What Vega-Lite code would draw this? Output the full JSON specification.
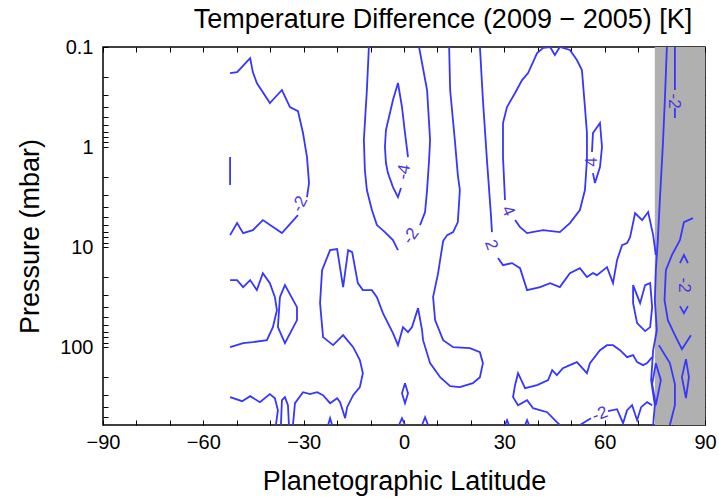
{
"$schema": "https://vega.github.io/schema/vega-lite/v6.json",
"width": 602, "height": 378,
"autosize": "none",
"padding": {"left": 103, "top": 47, "right": 14, "bottom": 73},
"background": "white",
"config": {"font": "Liberation Sans", "view": {"stroke": "black", "strokeWidth": 1.5}},
"title": {"text": "Temperature Difference (2009 \u2212 2005) [K]", "fontSize": 27, "fontWeight": "normal", "color": "black", "anchor": "middle", "dx": 39, "baseline": "alphabetic", "offset": 15, "dy": 33},
"datasets": {
"contours": [
{"c":"A1","i":1,"lat":-52.0,"p":0.182},{"c":"A1","i":2,"lat":-49.9,"p":0.178},{"c":"A1","i":3,"lat":-46.0,"p":0.129},{"c":"A1","i":4,"lat":-45.2,"p":0.178},{"c":"A1","i":5,"lat":-44.0,"p":0.229},{"c":"A1","i":6,"lat":-40.1,"p":0.363},{"c":"A1","i":7,"lat":-36.5,"p":0.269},{"c":"A1","i":8,"lat":-34.1,"p":0.398},{"c":"A1","i":9,"lat":-31.7,"p":0.437},{"c":"A1","i":10,"lat":-30.2,"p":0.724},{"c":"A1","i":11,"lat":-29.0,"p":1.259},{"c":"A1","i":12,"lat":-28.4,"p":2.291},{"c":"A1","i":13,"lat":-29.0,"p":3.162},
{"c":"A2","i":1,"lat":-31.7,"p":4.786},{"c":"A2","i":2,"lat":-36.5,"p":7.244},{"c":"A2","i":3,"lat":-42.2,"p":5.370},{"c":"A2","i":4,"lat":-45.2,"p":6.761},{"c":"A2","i":5,"lat":-48.1,"p":7.244},{"c":"A2","i":6,"lat":-49.9,"p":5.754},{"c":"A2","i":7,"lat":-52.0,"p":7.586},
{"c":"A3","i":1,"lat":-52.0,"p":1.259},{"c":"A3","i":2,"lat":-52.0,"p":2.399},
{"c":"B1","i":1,"lat":-10.5,"p":0.1},{"c":"B1","i":2,"lat":-11.1,"p":0.269},{"c":"B1","i":3,"lat":-12.0,"p":0.851},{"c":"B1","i":4,"lat":-11.7,"p":1.698},{"c":"B1","i":5,"lat":-11.1,"p":2.692},{"c":"B1","i":6,"lat":-9.6,"p":4.266},{"c":"B1","i":7,"lat":-8.1,"p":6.026},{"c":"B1","i":8,"lat":-5.7,"p":7.079},{"c":"B1","i":9,"lat":-3.3,"p":8.511},{"c":"B1","i":10,"lat":-1.8,"p":10.72},
{"c":"B2","i":1,"lat":4.8,"p":6.026},{"c":"B2","i":2,"lat":6.3,"p":4.467},{"c":"B2","i":3,"lat":6.9,"p":2.692},{"c":"B2","i":4,"lat":7.5,"p":1.349},{"c":"B2","i":5,"lat":7.8,"p":0.851},{"c":"B2","i":6,"lat":6.9,"p":0.269},{"c":"B2","i":7,"lat":4.5,"p":0.1},
{"c":"C","i":1,"lat":1.2,"p":1.259},{"c":"C","i":2,"lat":0.3,"p":0.724},{"c":"C","i":3,"lat":-0.6,"p":0.398},{"c":"C","i":4,"lat":-1.8,"p":0.229},{"c":"C","i":5,"lat":-3.3,"p":0.339},{"c":"C","i":6,"lat":-4.2,"p":0.457},{"c":"C","i":7,"lat":-5.4,"p":0.676},{"c":"C","i":8,"lat":-5.7,"p":1.0},{"c":"C","i":9,"lat":-5.4,"p":1.445},{"c":"C","i":10,"lat":-4.8,"p":1.82},{"c":"C","i":11,"lat":-3.3,"p":2.512},{"c":"C","i":12,"lat":-1.8,"p":3.162},{"c":"C","i":13,"lat":-0.9,"p":2.57},
{"c":"D","i":1,"lat":13.5,"p":0.1},{"c":"D","i":2,"lat":13.8,"p":0.269},{"c":"D","i":3,"lat":15.2,"p":0.851},{"c":"D","i":4,"lat":16.1,"p":1.905},{"c":"D","i":5,"lat":16.7,"p":2.692},{"c":"D","i":6,"lat":16.1,"p":5.623},{"c":"D","i":7,"lat":14.7,"p":7.079},{"c":"D","i":8,"lat":12.9,"p":7.586},{"c":"D","i":9,"lat":11.7,"p":8.71},{"c":"D","i":10,"lat":10.8,"p":13.49},{"c":"D","i":11,"lat":10.2,"p":18.2},{"c":"D","i":12,"lat":8.7,"p":31.62},{"c":"D","i":13,"lat":9.3,"p":53.7},{"c":"D","i":14,"lat":11.7,"p":85.11},{"c":"D","i":15,"lat":14.7,"p":100},{"c":"D","i":16,"lat":19.7,"p":102.3},{"c":"D","i":17,"lat":22.7,"p":112.2},{"c":"D","i":18,"lat":23.6,"p":144.5},{"c":"D","i":19,"lat":22.7,"p":199.5},{"c":"D","i":20,"lat":20.6,"p":229.1},{"c":"D","i":21,"lat":16.7,"p":251.2},{"c":"D","i":22,"lat":13.8,"p":245.5},{"c":"D","i":23,"lat":10.8,"p":199.5},{"c":"D","i":24,"lat":7.8,"p":144.5},{"c":"D","i":25,"lat":5.7,"p":85.11},{"c":"D","i":26,"lat":5.4,"p":67.61},{"c":"D","i":27,"lat":4.2,"p":40.74},{"c":"D","i":28,"lat":2.4,"p":63.1},{"c":"D","i":29,"lat":1.2,"p":70.79},{"c":"D","i":30,"lat":-0.3,"p":63.1},{"c":"D","i":31,"lat":-1.8,"p":95.5},{"c":"D","i":32,"lat":-3.3,"p":72.44},{"c":"D","i":33,"lat":-6.3,"p":45.71},{"c":"D","i":34,"lat":-8.1,"p":31.62},{"c":"D","i":35,"lat":-9.6,"p":26.92},{"c":"D","i":36,"lat":-12.3,"p":26.92},{"c":"D","i":37,"lat":-13.8,"p":22.91},{"c":"D","i":38,"lat":-15.5,"p":11.22},{"c":"D","i":39,"lat":-16.7,"p":10.72},{"c":"D","i":40,"lat":-18.2,"p":25.12},{"c":"D","i":41,"lat":-20.0,"p":10.47},{"c":"D","i":42,"lat":-22.1,"p":10.72},{"c":"D","i":43,"lat":-24.5,"p":16.98},{"c":"D","i":44,"lat":-25.1,"p":36.31},{"c":"D","i":45,"lat":-24.2,"p":79.43},{"c":"D","i":46,"lat":-21.2,"p":95.5},{"c":"D","i":47,"lat":-18.2,"p":75.86},{"c":"D","i":48,"lat":-15.2,"p":100},{"c":"D","i":49,"lat":-13.2,"p":134.9},{"c":"D","i":50,"lat":-12.3,"p":182.0},{"c":"D","i":51,"lat":-13.2,"p":251.2},{"c":"D","i":52,"lat":-15.2,"p":302.0},{"c":"D","i":53,"lat":-17.0,"p":398.1},{"c":"D","i":54,"lat":-17.6,"p":512.9},{"c":"D","i":55,"lat":-19.1,"p":354.8},{"c":"D","i":56,"lat":-20.0,"p":323.6},{"c":"D","i":57,"lat":-22.1,"p":363.1},{"c":"D","i":58,"lat":-24.2,"p":302.0},{"c":"D","i":59,"lat":-26.0,"p":281.8},{"c":"D","i":60,"lat":-28.1,"p":295.1},{"c":"D","i":61,"lat":-30.2,"p":281.8},{"c":"D","i":62,"lat":-32.6,"p":363.1},{"c":"D","i":63,"lat":-33.2,"p":600},
{"c":"E1","i":1,"lat":22.7,"p":0.1},{"c":"E1","i":2,"lat":23.6,"p":0.339},{"c":"E1","i":3,"lat":24.8,"p":1.349},{"c":"E1","i":4,"lat":26.0,"p":4.786},{"c":"E1","i":5,"lat":26.3,"p":7.079},
{"c":"E2","i":1,"lat":28.1,"p":12.88},{"c":"E2","i":2,"lat":29.6,"p":15.14},{"c":"E2","i":3,"lat":32.3,"p":14.45},{"c":"E2","i":4,"lat":34.7,"p":16.22},{"c":"E2","i":5,"lat":36.8,"p":26.92},{"c":"E2","i":6,"lat":40.7,"p":25.12},{"c":"E2","i":7,"lat":43.7,"p":22.91},{"c":"E2","i":8,"lat":46.6,"p":25.12},{"c":"E2","i":9,"lat":49.6,"p":18.2},{"c":"E2","i":10,"lat":52.6,"p":16.22},{"c":"E2","i":11,"lat":54.7,"p":19.95},{"c":"E2","i":12,"lat":56.5,"p":18.2},{"c":"E2","i":13,"lat":57.7,"p":19.05},{"c":"E2","i":14,"lat":60.7,"p":15.85},{"c":"E2","i":15,"lat":62.5,"p":22.91},{"c":"E2","i":16,"lat":63.7,"p":13.49},{"c":"E2","i":17,"lat":65.2,"p":9.55},{"c":"E2","i":18,"lat":66.7,"p":9.12},{"c":"E2","i":19,"lat":67.6,"p":7.943},{"c":"E2","i":20,"lat":69.1,"p":4.571},{"c":"E2","i":21,"lat":71.2,"p":5.37},{"c":"E2","i":22,"lat":73.0,"p":4.467},{"c":"E2","i":23,"lat":74.5,"p":7.586},{"c":"E2","i":24,"lat":75.3,"p":12.02},
{"c":"F","i":1,"lat":30.2,"p":3.388},{"c":"F","i":2,"lat":29.6,"p":1.259},{"c":"F","i":3,"lat":29.6,"p":0.575},{"c":"F","i":4,"lat":30.8,"p":0.398},{"c":"F","i":5,"lat":33.2,"p":0.288},{"c":"F","i":6,"lat":35.3,"p":0.214},{"c":"F","i":7,"lat":37.1,"p":0.182},{"c":"F","i":8,"lat":39.8,"p":0.115},{"c":"F","i":9,"lat":41.6,"p":0.102},{"c":"F","i":10,"lat":43.7,"p":0.1},{"c":"F","i":11,"lat":45.1,"p":0.12},{"c":"F","i":12,"lat":46.6,"p":0.1},{"c":"F","i":13,"lat":49.6,"p":0.107},{"c":"F","i":14,"lat":51.7,"p":0.135},{"c":"F","i":15,"lat":53.2,"p":0.17},{"c":"F","i":16,"lat":54.1,"p":0.398},{"c":"F","i":17,"lat":54.7,"p":0.724},{"c":"F","i":18,"lat":54.7,"p":1.349},{"c":"F","i":19,"lat":54.1,"p":2.692},{"c":"F","i":20,"lat":52.6,"p":4.266},{"c":"F","i":21,"lat":49.6,"p":5.754},{"c":"F","i":22,"lat":46.6,"p":7.079},{"c":"F","i":23,"lat":41.6,"p":6.761},{"c":"F","i":24,"lat":36.8,"p":7.244},{"c":"F","i":25,"lat":34.7,"p":6.31},{"c":"F","i":26,"lat":33.2,"p":5.37},
{"c":"G","i":1,"lat":56.2,"p":1.122},{"c":"G","i":2,"lat":56.5,"p":0.724},{"c":"G","i":3,"lat":58.6,"p":0.575},{"c":"G","i":4,"lat":59.2,"p":1.0},{"c":"G","i":5,"lat":58.6,"p":1.585},{"c":"G","i":6,"lat":57.1,"p":2.291},{"c":"G","i":7,"lat":56.5,"p":1.82},
{"c":"H1","i":1,"lat":81.0,"p":0.1},{"c":"H1","i":2,"lat":81.0,"p":0.269},
{"c":"H2","i":1,"lat":81.0,"p":0.407},{"c":"H2","i":2,"lat":81.0,"p":0.513},
{"c":"I","i":1,"lat":78.6,"p":0.1},{"c":"I","i":2,"lat":78.0,"p":0.339},{"c":"I","i":3,"lat":77.4,"p":0.955},{"c":"I","i":4,"lat":76.5,"p":3.388},{"c":"I","i":5,"lat":75.9,"p":8.511},{"c":"I","i":6,"lat":75.3,"p":16.98},{"c":"I","i":7,"lat":75.0,"p":33.88},{"c":"I","i":8,"lat":75.6,"p":67.61},{"c":"I","i":9,"lat":74.5,"p":107.2},{"c":"I","i":10,"lat":73.9,"p":213.8},{"c":"I","i":11,"lat":75.0,"p":380.2},{"c":"I","i":12,"lat":74.5,"p":600},
{"c":"J1","i":1,"lat":86.4,"p":5.129},{"c":"J1","i":2,"lat":83.7,"p":5.623},{"c":"J1","i":3,"lat":82.5,"p":8.511},{"c":"J1","i":4,"lat":80.1,"p":12.02},{"c":"J1","i":5,"lat":78.3,"p":16.98},{"c":"J1","i":6,"lat":77.9,"p":33.88},{"c":"J1","i":7,"lat":78.9,"p":53.7},{"c":"J1","i":8,"lat":81.0,"p":75.86},{"c":"J1","i":9,"lat":83.1,"p":104.7},{"c":"J1","i":10,"lat":85.8,"p":75.86},
{"c":"J2","i":1,"lat":82.5,"p":14.45},{"c":"J2","i":2,"lat":83.7,"p":12.02},{"c":"J2","i":3,"lat":84.9,"p":14.45},
{"c":"J3","i":1,"lat":82.5,"p":38.9},{"c":"J3","i":2,"lat":83.7,"p":45.71},{"c":"J3","i":3,"lat":84.9,"p":38.9},
{"c":"K","i":1,"lat":84.3,"p":131.8},{"c":"K","i":2,"lat":85.2,"p":199.5},{"c":"K","i":3,"lat":84.3,"p":323.6},{"c":"K","i":4,"lat":83.1,"p":199.5},{"c":"K","i":5,"lat":84.3,"p":131.8},
{"c":"L","i":1,"lat":68.5,"p":23.99},{"c":"L","i":2,"lat":70.6,"p":36.31},{"c":"L","i":3,"lat":72.1,"p":23.99},{"c":"L","i":4,"lat":73.6,"p":22.91},{"c":"L","i":5,"lat":74.2,"p":39.81},{"c":"L","i":6,"lat":73.6,"p":63.1},{"c":"L","i":7,"lat":72.1,"p":69.18},{"c":"L","i":8,"lat":69.7,"p":57.54},{"c":"L","i":9,"lat":68.5,"p":36.31},{"c":"L","i":10,"lat":68.5,"p":23.99},
{"c":"M","i":1,"lat":-52.0,"p":21.38},{"c":"M","i":2,"lat":-49.9,"p":21.38},{"c":"M","i":3,"lat":-48.1,"p":25.12},{"c":"M","i":4,"lat":-46.0,"p":21.38},{"c":"M","i":5,"lat":-44.0,"p":26.92},{"c":"M","i":6,"lat":-42.2,"p":18.2},{"c":"M","i":7,"lat":-40.1,"p":22.91},{"c":"M","i":8,"lat":-38.6,"p":31.62},{"c":"M","i":9,"lat":-38.0,"p":42.66},{"c":"M","i":10,"lat":-39.2,"p":63.1},{"c":"M","i":11,"lat":-41.0,"p":85.11},{"c":"M","i":12,"lat":-45.2,"p":89.13},{"c":"M","i":13,"lat":-48.1,"p":91.2},{"c":"M","i":14,"lat":-52.0,"p":100},
{"c":"N","i":1,"lat":-37.1,"p":31.62},{"c":"N","i":2,"lat":-35.6,"p":23.99},{"c":"N","i":3,"lat":-32.0,"p":39.81},{"c":"N","i":4,"lat":-32.0,"p":53.7},{"c":"N","i":5,"lat":-35.6,"p":91.2},{"c":"N","i":6,"lat":-37.7,"p":63.1},{"c":"N","i":7,"lat":-37.1,"p":31.62},
{"c":"O1","i":1,"lat":-52.0,"p":316.2},{"c":"O1","i":2,"lat":-48.4,"p":346.7},{"c":"O1","i":3,"lat":-46.0,"p":309.0},{"c":"O1","i":4,"lat":-43.1,"p":354.8},{"c":"O1","i":5,"lat":-40.1,"p":295.1},{"c":"O1","i":6,"lat":-38.6,"p":323.6},{"c":"O1","i":7,"lat":-37.7,"p":426.6},{"c":"O1","i":8,"lat":-38.3,"p":600},
{"c":"O2","i":1,"lat":-36.8,"p":600},{"c":"O2","i":2,"lat":-36.5,"p":338.8},{"c":"O2","i":3,"lat":-35.6,"p":316.2},{"c":"O2","i":4,"lat":-34.7,"p":380.2},{"c":"O2","i":5,"lat":-34.4,"p":600},
{"c":"P","i":1,"lat":0.3,"p":229.1},{"c":"P","i":2,"lat":1.2,"p":288.4},{"c":"P","i":3,"lat":0.3,"p":363.1},{"c":"P","i":4,"lat":-0.6,"p":288.4},{"c":"P","i":5,"lat":0.3,"p":229.1},
{"c":"Q","i":1,"lat":46.6,"p":600},{"c":"Q","i":2,"lat":45.7,"p":562.3},{"c":"Q","i":3,"lat":42.8,"p":446.7},{"c":"Q","i":4,"lat":38.6,"p":407.4},{"c":"Q","i":5,"lat":36.8,"p":338.8},{"c":"Q","i":6,"lat":34.1,"p":380.2},{"c":"Q","i":7,"lat":32.6,"p":316.2},{"c":"Q","i":8,"lat":33.2,"p":239.9},{"c":"Q","i":9,"lat":34.1,"p":182.0},{"c":"Q","i":10,"lat":36.2,"p":257.0},{"c":"Q","i":11,"lat":39.8,"p":239.9},{"c":"Q","i":12,"lat":43.1,"p":213.8},{"c":"Q","i":13,"lat":44.3,"p":169.8},{"c":"Q","i":14,"lat":45.7,"p":190.5},{"c":"Q","i":15,"lat":47.5,"p":162.2},{"c":"Q","i":16,"lat":49.6,"p":151.4},{"c":"Q","i":17,"lat":51.7,"p":141.3},{"c":"Q","i":18,"lat":54.7,"p":182.0},{"c":"Q","i":19,"lat":55.6,"p":144.5},{"c":"Q","i":20,"lat":58.6,"p":107.2},{"c":"Q","i":21,"lat":60.7,"p":95.5},{"c":"Q","i":22,"lat":62.5,"p":95.5},{"c":"Q","i":23,"lat":64.6,"p":107.2},{"c":"Q","i":24,"lat":66.7,"p":125.9},{"c":"Q","i":25,"lat":68.5,"p":120.2},{"c":"Q","i":26,"lat":69.7,"p":141.3},{"c":"Q","i":27,"lat":71.5,"p":151.4},{"c":"Q","i":28,"lat":72.7,"p":144.5},{"c":"Q","i":29,"lat":74.2,"p":125.9},
{"c":"R1","i":1,"lat":52.6,"p":600},{"c":"R1","i":2,"lat":55.9,"p":512.9},
{"c":"R2","i":1,"lat":61.0,"p":436.5},{"c":"R2","i":2,"lat":63.7,"p":416.9},{"c":"R2","i":3,"lat":65.5,"p":575.4},{"c":"R2","i":4,"lat":66.7,"p":426.6},{"c":"R2","i":5,"lat":68.2,"p":380.2},{"c":"R2","i":6,"lat":69.7,"p":537.0},{"c":"R2","i":7,"lat":70.9,"p":398.1},{"c":"R2","i":8,"lat":72.7,"p":354.8},{"c":"R2","i":9,"lat":74.2,"p":380.2},
{"c":"S","i":1,"lat":75.3,"p":144.5},{"c":"S","i":2,"lat":74.2,"p":234.4},{"c":"S","i":3,"lat":75.3,"p":380.2},{"c":"S","i":4,"lat":76.8,"p":213.8},{"c":"S","i":5,"lat":75.3,"p":144.5},
{"c":"T","i":1,"lat":76.2,"p":95.5},{"c":"T","i":2,"lat":79.5,"p":144.5},{"c":"T","i":3,"lat":81.0,"p":234.4},{"c":"T","i":4,"lat":81.0,"p":380.2},{"c":"T","i":5,"lat":79.5,"p":600},
{"c":"U1","i":1,"lat":-22.7,"p":600},{"c":"U1","i":2,"lat":-22.1,"p":512.9},{"c":"U1","i":3,"lat":-21.5,"p":600},
{"c":"U2","i":1,"lat":-1.5,"p":600},{"c":"U2","i":2,"lat":-0.6,"p":512.9},{"c":"U2","i":3,"lat":0.3,"p":600},
{"c":"U3","i":1,"lat":5.4,"p":600},{"c":"U3","i":2,"lat":6.3,"p":501.2},{"c":"U3","i":3,"lat":7.2,"p":600},
{"c":"U4","i":1,"lat":30.2,"p":600},{"c":"U4","i":2,"lat":30.8,"p":537.0},{"c":"U4","i":3,"lat":31.4,"p":600},
{"c":"U5","i":1,"lat":36.2,"p":600},{"c":"U5","i":2,"lat":36.8,"p":537.0},{"c":"U5","i":3,"lat":37.4,"p":600}
],
"labels": [
{"name":"A","t":"-2","lat":-31.1,"p":3.72},
{"name":"B","t":"-2","lat":2.1,"p":7.76},
{"name":"C","t":"-4","lat":0.0,"p":1.778},
{"name":"E","t":"2","lat":26.0,"p":9.55},
{"name":"F","t":"4","lat":31.1,"p":4.365},
{"name":"G","t":"4","lat":56.2,"p":1.413},
{"name":"H","t":"-2","lat":80.7,"p":0.347},
{"name":"J","t":"-2","lat":83.7,"p":23.99},
{"name":"R","t":"-2","lat":58.6,"p":467.7}
],
"shade": [{"lat1":75,"lat2":90,"p1":0.1,"p2":600}]
},
"resolve": {"axis": {"x": "independent", "y": "independent"}},
"layer": [
{
"data": {"name": "shade"},
"mark": {"type": "rect", "color": "#b0b0b0"},
"encoding": {
"x": {"field": "lat1", "type": "quantitative", "scale": {"domain": [-90, 90], "nice": false, "zero": false},
 "axis": {"orient": "bottom", "values": [-90,-80,-70,-60,-50,-40,-30,-20,-10,0,10,20,30,40,50,60,70,80,90], "labelExpr": "datum.value % 30 == 0 ? format(datum.value, 'd') : ''", "tickSize": -5, "labelPadding": 12, "domain": false, "grid": false, "tickColor": "black", "labelColor": "black", "labelFontSize": 20, "labelFlush": false, "title": "Planetographic Latitude", "titleFontSize": 27, "titleFontWeight": "normal", "titleColor": "black", "titlePadding": 16}},
"x2": {"field": "lat2"},
"y": {"field": "p1", "type": "quantitative", "scale": {"type": "log", "domain": [0.1, 600], "nice": false, "reverse": true},
 "axis": {"orient": "left", "values": [0.1,0.2,0.3,0.4,0.5,0.6,0.7,0.8,0.9,1,2,3,4,5,6,7,8,9,10,20,30,40,50,60,70,80,90,100,200,300,400,500], "labelExpr": "datum.value == 0.1 ? '0.1' : datum.value == 1 ? '1' : datum.value == 10 ? '10' : datum.value == 100 ? '100' : ''", "tickSize": -5, "labelPadding": 15, "domain": false, "grid": false, "tickColor": "black", "labelColor": "black", "labelFontSize": 20, "labelFlush": false, "title": "Pressure (mbar)", "titleFontSize": 27, "titleFontWeight": "normal", "titleColor": "black", "titlePadding": 15}},
"y2": {"field": "p2"}
}
},
{
"data": {"name": "contours"},
"mark": {"type": "line", "color": "#3636ff", "strokeWidth": 1.8, "clip": true, "interpolate": "linear"},
"encoding": {
"x": {"field": "lat", "type": "quantitative", "scale": {"domain": [-90, 90], "nice": false, "zero": false},
 "axis": {"orient": "top", "values": [-90,-80,-70,-60,-50,-40,-30,-20,-10,0,10,20,30,40,50,60,70,80,90], "labels": false, "tickSize": -5, "domain": false, "grid": false, "tickColor": "black", "title": null}},
"y": {"field": "p", "type": "quantitative", "scale": {"type": "log", "domain": [0.1, 600], "nice": false, "reverse": true},
 "axis": {"orient": "right", "values": [0.1,0.2,0.3,0.4,0.5,0.6,0.7,0.8,0.9,1,2,3,4,5,6,7,8,9,10,20,30,40,50,60,70,80,90,100,200,300,400,500], "labels": false, "tickSize": -5, "domain": false, "grid": false, "tickColor": "black", "title": null}},
"detail": {"field": "c", "type": "nominal"},
"order": {"field": "i", "type": "quantitative"}
}
},
{"data": {"name": "labels"}, "transform": [{"filter": "datum.name == 'A'"}], "mark": {"type": "text", "angle": -63, "fontSize": 17, "color": "#4a35e0"}, "encoding": {"x": {"field": "lat", "type": "quantitative", "axis": null}, "y": {"field": "p", "type": "quantitative", "axis": null}, "text": {"field": "t"}}},
{"data": {"name": "labels"}, "transform": [{"filter": "datum.name == 'B'"}], "mark": {"type": "text", "angle": -55, "fontSize": 17, "color": "#4a35e0"}, "encoding": {"x": {"field": "lat", "type": "quantitative", "axis": null}, "y": {"field": "p", "type": "quantitative", "axis": null}, "text": {"field": "t"}}},
{"data": {"name": "labels"}, "transform": [{"filter": "datum.name == 'C'"}], "mark": {"type": "text", "angle": -80, "fontSize": 17, "color": "#4a35e0"}, "encoding": {"x": {"field": "lat", "type": "quantitative", "axis": null}, "y": {"field": "p", "type": "quantitative", "axis": null}, "text": {"field": "t"}}},
{"data": {"name": "labels"}, "transform": [{"filter": "datum.name == 'E'"}], "mark": {"type": "text", "angle": 70, "fontSize": 17, "color": "#4a35e0"}, "encoding": {"x": {"field": "lat", "type": "quantitative", "axis": null}, "y": {"field": "p", "type": "quantitative", "axis": null}, "text": {"field": "t"}}},
{"data": {"name": "labels"}, "transform": [{"filter": "datum.name == 'F'"}], "mark": {"type": "text", "angle": 66, "fontSize": 17, "color": "#4a35e0"}, "encoding": {"x": {"field": "lat", "type": "quantitative", "axis": null}, "y": {"field": "p", "type": "quantitative", "axis": null}, "text": {"field": "t"}}},
{"data": {"name": "labels"}, "transform": [{"filter": "datum.name == 'G'"}], "mark": {"type": "text", "angle": -90, "fontSize": 17, "color": "#4a35e0"}, "encoding": {"x": {"field": "lat", "type": "quantitative", "axis": null}, "y": {"field": "p", "type": "quantitative", "axis": null}, "text": {"field": "t"}}},
{"data": {"name": "labels"}, "transform": [{"filter": "datum.name == 'H' || datum.name == 'J'"}], "mark": {"type": "text", "angle": 90, "fontSize": 17, "color": "#4a35e0"}, "encoding": {"x": {"field": "lat", "type": "quantitative", "axis": null}, "y": {"field": "p", "type": "quantitative", "axis": null}, "text": {"field": "t"}}},
{"data": {"name": "labels"}, "transform": [{"filter": "datum.name == 'R'"}], "mark": {"type": "text", "angle": -20, "fontSize": 17, "color": "#4a35e0"}, "encoding": {"x": {"field": "lat", "type": "quantitative", "axis": null}, "y": {"field": "p", "type": "quantitative", "axis": null}, "text": {"field": "t"}}}
]
}
